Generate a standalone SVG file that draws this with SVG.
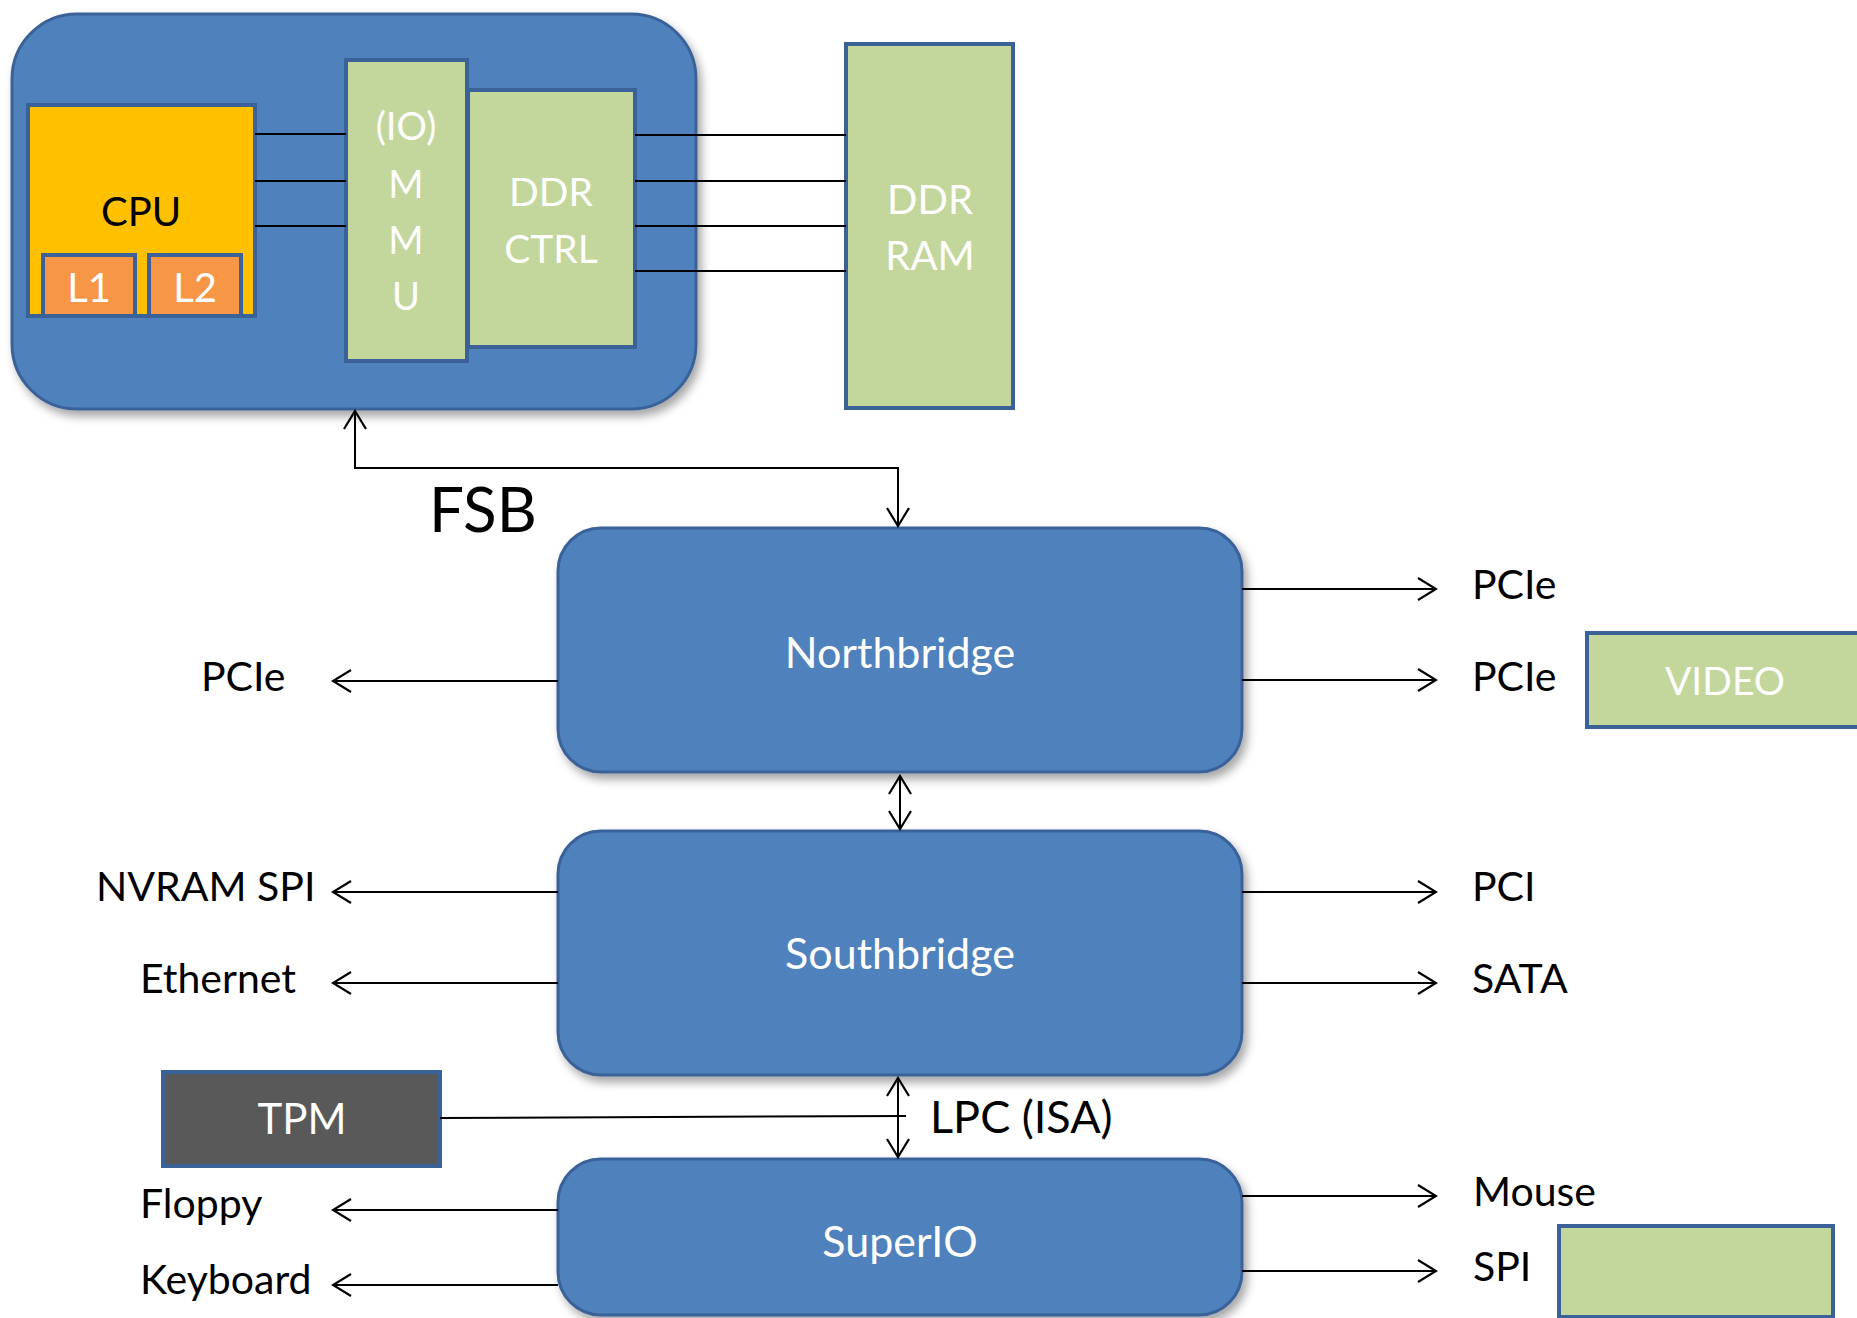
<svg xmlns="http://www.w3.org/2000/svg" width="1857" height="1318" viewBox="0 0 1857 1318">
<style>
  .bg { fill: #ffffff; }
  .blue { fill: #4F81BD; stroke: #3A6298; stroke-width: 3; }
  .green { fill: #C3D69B; stroke: #3A6298; stroke-width: 4; }
  .cpu { fill: #FFC000; stroke: #3A6298; stroke-width: 4; }
  .cache { fill: #F79646; stroke: #3A6298; stroke-width: 4; }
  .tpm { fill: #595959; stroke: #3A6298; stroke-width: 4; }
  text { font-family: "Lato", "Liberation Sans", sans-serif; }
  .w { fill: #ffffff; }
  .k { fill: #000000; }
  .mid { text-anchor: middle; }
  .lbl { font-size: 41px; fill: #000000; }
  .wire { stroke: #000000; stroke-width: 2; fill: none; }
  .arr { marker-end: url(#arrow); }
  .arr2 { marker-start: url(#arrow); marker-end: url(#arrow); }
</style>
<defs>
  <filter id="shadow" x="-10%" y="-10%" width="125%" height="130%">
    <feDropShadow dx="4" dy="6" stdDeviation="5" flood-color="#000000" flood-opacity="0.35"/>
  </filter>
  <marker id="arrow" markerUnits="userSpaceOnUse" viewBox="0 0 22 26" refX="20" refY="13" markerWidth="22" markerHeight="26" orient="auto-start-reverse">
    <path d="M2,2 L20,13 L2,24" fill="none" stroke="#000000" stroke-width="2.2"/>
  </marker>
</defs>
<rect class="bg" x="0" y="0" width="1857" height="1318"/>

<g id="cpu-package">
  <rect class="blue" x="12" y="14" width="684" height="395" rx="65" ry="65" filter="url(#shadow)"/>
</g>
<g id="cpu">
  <rect class="cpu" x="28" y="105" width="227" height="211"/>
  <text class="k mid" x="141" y="226" font-size="40">CPU</text>
</g>
<g id="l1">
  <rect class="cache" x="43" y="255" width="92" height="61"/>
  <text class="w mid" x="89" y="302" font-size="40">L1</text>
</g>
<g id="l2">
  <rect class="cache" x="149" y="255" width="92" height="61"/>
  <text class="w mid" x="195" y="302" font-size="40">L2</text>
</g>
<g id="iommu">
  <rect class="green" x="346" y="60" width="121" height="301"/>
  <text class="w mid" x="406" y="140" font-size="38">(IO)</text>
  <text class="w mid" x="406" y="198" font-size="38">M</text>
  <text class="w mid" x="406" y="254" font-size="38">M</text>
  <text class="w mid" x="406" y="310" font-size="38">U</text>
</g>
<g id="ddr-ctrl">
  <rect class="green" x="468" y="90" width="167" height="257"/>
  <text class="w mid" x="551" y="206" font-size="39">DDR</text>
  <text class="w mid" x="551" y="263" font-size="39">CTRL</text>
</g>
<g id="ddr-ram">
  <rect class="green" x="846" y="44" width="167" height="364" stroke-width="3"/>
  <text class="w mid" x="930" y="214" font-size="40">DDR</text>
  <text class="w mid" x="930" y="270" font-size="40">RAM</text>
</g>

<g id="northbridge">
  <rect class="blue" x="558" y="528" width="684" height="244" rx="43" ry="43" filter="url(#shadow)"/>
  <text class="w mid" x="900" y="668" font-size="43">Northbridge</text>
</g>
<g id="southbridge">
  <rect class="blue" x="558" y="831" width="684" height="244" rx="43" ry="43" filter="url(#shadow)"/>
  <text class="w mid" x="900" y="969" font-size="43">Southbridge</text>
</g>
<g id="superio">
  <rect class="blue" x="558" y="1159" width="684" height="156" rx="43" ry="43" filter="url(#shadow)"/>
  <text class="w mid" x="900" y="1257" font-size="43">SuperIO</text>
</g>
<g id="tpm">
  <rect class="tpm" x="163" y="1072" width="277" height="94"/>
  <text class="w mid" x="302" y="1134" font-size="42">TPM</text>
</g>
<g id="video">
  <rect class="green" x="1587" y="633" width="290" height="94"/>
  <text class="w mid" x="1725" y="695" font-size="39">VIDEO</text>
</g>
<g id="spi-flash">
  <rect class="green" x="1559" y="1226" width="274" height="91"/>
</g>

<g id="connectors">
  <line class="wire" x1="255" y1="134" x2="346" y2="134"/>
  <line class="wire" x1="255" y1="181" x2="346" y2="181"/>
  <line class="wire" x1="255" y1="226" x2="346" y2="226"/>
  <line class="wire" x1="635" y1="135" x2="846" y2="135"/>
  <line class="wire" x1="635" y1="181" x2="846" y2="181"/>
  <line class="wire" x1="635" y1="226" x2="846" y2="226"/>
  <line class="wire" x1="635" y1="271" x2="846" y2="271"/>
  <path class="wire arr2" d="M355,411 V468 H898 V526"/>
  <path class="wire arr2" d="M900,776 V829"/>
  <path class="wire arr2" d="M898,1078 V1157"/>
  <path class="wire" d="M440,1118 L906,1116"/>
  <path class="wire arr" d="M1242,589 H1436"/>
  <path class="wire arr" d="M1242,680 H1436"/>
  <path class="wire arr" d="M558,681 H333"/>
  <path class="wire arr" d="M558,892 H333"/>
  <path class="wire arr" d="M558,983 H333"/>
  <path class="wire arr" d="M1242,892 H1436"/>
  <path class="wire arr" d="M1242,983 H1436"/>
  <path class="wire arr" d="M558,1210 H333"/>
  <path class="wire arr" d="M558,1285 H333"/>
  <path class="wire arr" d="M1242,1196 H1436"/>
  <path class="wire arr" d="M1242,1271 H1436"/>
</g>

<g id="labels">
  <text class="k" x="429" y="532" font-size="62">FSB</text>
  <text class="k" x="930" y="1133" font-size="45">LPC (ISA)</text>
  <text class="lbl" x="1472" y="599">PCIe</text>
  <text class="lbl" x="1472" y="691">PCIe</text>
  <text class="lbl" x="201" y="691">PCIe</text>
  <text class="lbl" x="96" y="901">NVRAM SPI</text>
  <text class="lbl" x="140" y="993">Ethernet</text>
  <text class="lbl" x="1472" y="901">PCI</text>
  <text class="lbl" x="1472" y="993">SATA</text>
  <text class="lbl" x="140" y="1218">Floppy</text>
  <text class="lbl" x="140" y="1294">Keyboard</text>
  <text class="lbl" x="1473" y="1206">Mouse</text>
  <text class="lbl" x="1473" y="1281">SPI</text>
</g>
</svg>
